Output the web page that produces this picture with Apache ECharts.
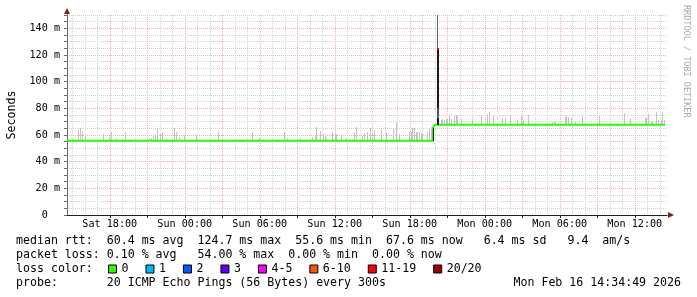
<!DOCTYPE html>
<html><head><meta charset="utf-8">
<script src="https://cdn.jsdelivr.net/npm/echarts@6/dist/echarts.min.js"></script>
<style>html,body{margin:0;padding:0;background:#fff}#c{width:697px;height:297px}</style>
</head><body><div id="c"></div>
<script>
// ---- axes (hours counted from Sat 00:00) ----
const startHour = 14.58, endHour = 62.58;
const xLabelHours = [18, 24, 30, 36, 42, 48, 54, 60];
const xLabelTexts = ['Sat 18:00', 'Sun 00:00', 'Sun 06:00', 'Sun 12:00', 'Sun 18:00', 'Mon 00:00', 'Mon 06:00', 'Mon 12:00'];
const majorHours = [18, 21, 24, 27, 30, 33, 36, 39, 42, 45, 48, 51, 54, 57, 60];
const minorHours = [15, 16, 17, 19, 20, 22, 23, 25, 26, 28, 29, 31, 32, 34, 35, 37, 38, 40, 41, 43, 44, 46, 47, 49, 50, 52, 53, 55, 56, 58, 59, 61, 62];
const yLabelValues = [0, 20, 40, 60, 80, 100, 120, 140];
const yMajor = [20, 40, 60, 80, 100, 120, 140];
const yMinor = [5, 10, 15, 25, 30, 35, 45, 50, 55, 65, 70, 75, 85, 90, 95, 105, 110, 115, 125, 130, 135, 145, 150];
const yTicks = [0, 5, 10, 15, 20, 25, 30, 35, 40, 45, 50, 55, 60, 65, 70, 75, 80, 85, 90, 95, 100, 105, 110, 115, 120, 125, 130, 135, 140, 145, 150];

// ---- median rtt (ms) ----
const medianHours = [14.58, 43.86, 43.86, 43.98, 62.42];
const medianMs    = [55.7, 55.7, 65.5, 67.6, 67.6];

// ---- smoke tops (ms) ----
const smokeHours = [15.50,15.68,15.84,16.02,17.46,17.96,18.14,18.54,19.24,21.16,21.30,21.48,21.64,21.84,22.02,22.24,22.50,23.16,23.36,23.56,23.96,24.90,26.66,
  29.40,29.96,31.96,32.24,33.30,34.24,34.44,34.56,34.82,35.08,35.22,35.34,35.78,36.02,36.16,36.56,36.96,37.16,37.38,37.56,37.76,38.24,38.36,
  38.64,38.82,39.04,39.16,39.70,40.10,40.68,40.94,41.16,41.98,42.10,42.24,42.36,42.50,42.64,42.76,42.90,43.04,43.44,43.56,43.70,
  44.50,44.64,44.76,44.90,45.04,45.16,45.30,45.56,45.70,45.84,46.10,47.04,47.70,48.18,48.36,48.66,49.44,49.62,50.02,50.64,50.96,51.06,51.50,
  53.44,53.54,53.64,54.44,54.56,54.68,54.96,55.24,55.84,57.16,59.16,59.62,60.84,60.96,61.08,61.30,61.44,61.70,61.92,62.16,62.24,62.36];
const smokeTopMs = [63.5,65,63,60,60.5,58.5,62.5,58,62.5,57.7,58,60,61,65,60.5,62,57.5,65,62,58.5,60,60,63,
  62.5,57.5,62,57.5,57.5,58.7,60,66,63,60.5,60.5,58,62.4,61,61,61,57.5,57,57,62.4,66,59,61.6,
  62,65,61,63.7,63.7,62.4,65,70,61,62,62.5,65,65,62.5,62,62,61.5,61,62.4,65,66,
  71,72,71,72,71,75,72,74,75,75,72,72,75,76,77,74,73,73,74,71,74,71,75,
  70,70,70,73.6,74,73.6,73,70,74,74,76.6,73,73,73,76,70,70,77,71,71,77,71];

// ---- step and spike ----
const stepHours = [43.86], stepLowMs = [55.7], stepHighMs = [65.5];
const spikeHours = [44.22];
const spikeMaxMs = [150];
const spikeCoreLowMs = [67.6], spikeCoreHighMs = [124.0];
const spikeShadeLowMs = [72.5], spikeShadeHighMs = [80.0];
const spikeMedianMs = [124.7];
const spikeBlueMs = [73.6];

// ---- legend ----
const lossNames = ['0', '1', '2', '3', '4-5', '6-10', '11-19', '20/20'];
const lossColors = ['#26ff00', '#00b8ff', '#0059ff', '#5e00ff', '#ff00ff', '#ff5500', '#ff0000', '#a10000'];

const MONO = '"DejaVu Sans Mono", monospace';

function medianAt(h) {
  let v = medianMs[0];
  for (let i = 0; i < medianHours.length; i++) if (medianHours[i] <= h) v = medianMs[i];
  return v;
}

function barSeries(name, rows, color, w, z) {
  return {
    name: name, type: 'custom', xAxisIndex: 3, yAxisIndex: 3, z: z, silent: true,
    encode: { x: 0, y: [1, 2] },
    data: rows,
    renderItem: function (params, api) {
      const h = api.value(0), lo = api.value(1), hi = api.value(2);
      const p0 = api.coord([h, lo]), p1 = api.coord([h, hi]);
      const x = Math.round(p0[0] - w / 2);
      const y1 = Math.round(p1[1]), y0 = Math.round(p0[1]);
      return { type: 'rect', shape: { x: x, y: y1, width: w, height: Math.max(1, y0 - y1) }, style: { fill: color } };
    }
  };
}

const smokeRows = smokeHours.map((h, i) => [h, medianAt(h), smokeTopMs[i]]);
const stepRows = stepHours.map((h, i) => [h, stepLowMs[i], stepHighMs[i]]);
const spikeThinRows = spikeHours.map((h, i) => [h, spikeCoreLowMs[i], spikeMaxMs[i]]);
const spikeCoreRows = spikeHours.map((h, i) => [h, spikeCoreLowMs[i], spikeCoreHighMs[i]]);
const spikeShadeRows = spikeHours.map((h, i) => [h + 0.04, spikeShadeLowMs[i], spikeShadeHighMs[i]]);
const spikeMedRows = spikeHours.map((h, i) => [h, spikeMedianMs[i] - 0.9, spikeMedianMs[i] + 0.9]);
const spikeBlueRows = spikeHours.map((h, i) => [h + 0.06, spikeBlueMs[i] - 0.6, spikeBlueMs[i] + 0.6]);

const chart = echarts.init(document.getElementById('c'), null, { renderer: 'canvas' });

const gridDash = [1, 1];
function hiddenAxis(extra) {
  return Object.assign({
    type: 'value', axisLine: { show: false }, axisLabel: { show: false },
    axisTick: { show: false }
  }, extra);
}

const option = {
  animation: false,
  backgroundColor: '#ffffff',
  grid: { left: 67, right: 30, top: 15, bottom: 82, containLabel: false, outerBoundsMode: 'none' },
  xAxis: [
    hiddenAxis({ min: startHour, max: endHour, position: 'bottom',
      axisLine: { show: true, lineStyle: { color: '#801f1f', width: 1 }, symbol: ['none', 'triangle'], symbolSize: [6, 6], symbolOffset: [0, 4] },
      splitLine: { show: false } }),
    hiddenAxis({ min: startHour, max: endHour, position: 'bottom',
      axisTick: { show: false, customValues: minorHours },
      splitLine: { show: true, lineStyle: { color: '#d2d2d2', width: 1, type: gridDash } } }),
    hiddenAxis({ min: startHour, max: endHour, position: 'bottom',
      axisTick: { show: false, customValues: majorHours },
      splitLine: { show: true, lineStyle: { color: '#f0b0b0', width: 1, type: gridDash } } }),
    { type: 'value', min: startHour, max: endHour, position: 'bottom',
      axisLine: { show: true, lineStyle: { color: '#1f1f1f', width: 1 } },
      axisTick: { show: true, customValues: majorHours, length: 3, lineStyle: { color: '#1f1f1f' } },
      axisLabel: { show: true, customValues: xLabelHours, margin: 4, color: '#000', fontFamily: MONO, fontSize: 10.15,
        formatter: v => { const i = xLabelHours.indexOf(Math.round(v)); return i >= 0 ? xLabelTexts[i] : ''; } },
      splitLine: { show: false } }
  ],
  yAxis: [
    hiddenAxis({ min: 0, max: 150, position: 'left',
      axisLine: { show: true, lineStyle: { color: '#801f1f', width: 1 }, symbol: ['none', 'triangle'], symbolSize: [6, 6], symbolOffset: [0, 4] },
      splitLine: { show: false } }),
    hiddenAxis({ min: 0, max: 150, position: 'left',
      axisTick: { show: false, customValues: yMinor },
      splitLine: { show: true, lineStyle: { color: '#d2d2d2', width: 1, type: gridDash } } }),
    hiddenAxis({ min: 0, max: 150, position: 'left',
      axisTick: { show: false, customValues: yMajor },
      splitLine: { show: true, lineStyle: { color: '#f0b0b0', width: 1, type: gridDash } } }),
    { type: 'value', min: 0, max: 150, position: 'left',
      name: 'Seconds', nameLocation: 'middle', nameGap: 49,
      nameTextStyle: { fontFamily: MONO, fontSize: 11.6, color: '#000' },
      axisLine: { show: true, lineStyle: { color: '#6a6a6a', width: 1 } },
      axisTick: { show: true, customValues: yTicks, length: 3, lineStyle: { color: '#6a6a6a' } },
      axisLabel: { show: true, customValues: yLabelValues, margin: 7, color: '#000', fontFamily: MONO, fontSize: 10.15,
        formatter: v => v === 0 ? '0  ' : v + ' m' },
      splitLine: { show: false } }
  ],
  legend: {
    left: 108, top: 263, padding: 0, icon: 'rect', itemWidth: 8, itemHeight: 8, itemGap: 17,
    selectedMode: false, data: lossNames,
    itemStyle: { borderColor: '#000', borderWidth: 1 },
    textStyle: { fontFamily: MONO, fontSize: 11.6, color: '#000' }
  },
  series: [
    barSeries('smoke', smokeRows, '#c4c4c4', 1, 2),
    { name: 'median', type: 'line', xAxisIndex: 3, yAxisIndex: 3, z: 3, silent: true,
      data: medianHours.map((h, i) => [h, medianMs[i]]), showSymbol: false, symbol: 'none',
      lineStyle: { color: lossColors[0], width: 2 } },
    barSeries('step', stepRows, '#222222', 1, 4),
    barSeries('spikeThin', spikeThinRows, '#666666', 1, 4),
    barSeries('spikeCore', spikeCoreRows, '#1a1a1a', 2, 5),
    barSeries('spikeShade', spikeShadeRows, '#555555', 2, 5),
    barSeries('spikeMedian', spikeMedRows, lossColors[6], 2, 6),
    barSeries('spikeBlue', spikeBlueRows, lossColors[1], 1, 6)
  ].concat(lossNames.map((n, i) => ({ name: n, type: 'bar', xAxisIndex: 3, yAxisIndex: 3, data: [], itemStyle: { color: lossColors[i] } }))),
  graphic: [
    { type: 'text', x: 16, y: 241, silent: true, style: { text: 'median rtt:  60.4 ms avg  124.7 ms max  55.6 ms min  67.6 ms now   6.4 ms sd   9.4  am/s', font: '11.6px ' + MONO, fill: '#000', verticalAlign: 'middle' } },
    { type: 'text', x: 16, y: 255, silent: true, style: { text: 'packet loss: 0.10 % avg   54.00 % max  0.00 % min  0.00 % now', font: '11.6px ' + MONO, fill: '#000', verticalAlign: 'middle' } },
    { type: 'text', x: 16, y: 269, silent: true, style: { text: 'loss color:', font: '11.6px ' + MONO, fill: '#000', verticalAlign: 'middle' } },
    { type: 'text', x: 16, y: 283, silent: true, style: { text: 'probe:       20 ICMP Echo Pings (56 Bytes) every 300s', font: '11.6px ' + MONO, fill: '#000', verticalAlign: 'middle' } },
    { type: 'text', x: 681, y: 283, silent: true, style: { text: 'Mon Feb 16 14:34:49 2026', font: '11.6px ' + MONO, fill: '#000', align: 'right', verticalAlign: 'middle' } },
    { type: 'text', x: 686, y: 5, rotation: -Math.PI / 2, silent: true, style: { text: 'RRDTOOL / TOBI OETIKER', font: '8.5px ' + MONO, fill: '#aaaaaa', align: 'left', verticalAlign: 'middle' } }
  ]
};
chart.setOption(option);
</script>
</body></html>
